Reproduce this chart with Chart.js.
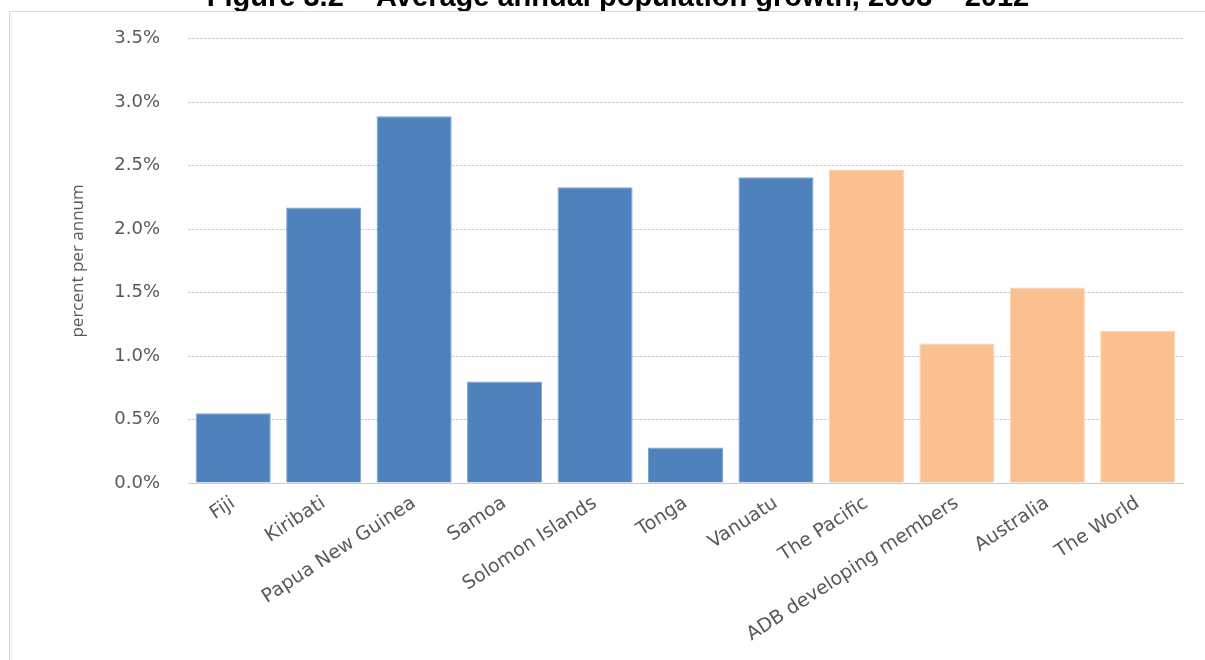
<!DOCTYPE html>
<html>
<head>
<meta charset="utf-8">
<style>
  html, body { margin: 0; padding: 0; background: #ffffff; }
  #wrap { position: relative; width: 1205px; height: 660px; }
  canvas { display: block; }
</style>
<script src="https://cdn.jsdelivr.net/npm/chart.js@4.4.1/dist/chart.umd.min.js"></script>
</head>
<body>
<div id="wrap"><canvas id="chart" width="1205" height="660"></canvas></div>
<script>
// Average annual population growth, percent per annum
const categories = [
  'Fiji', 'Kiribati', 'Papua New Guinea', 'Samoa', 'Solomon Islands',
  'Tonga', 'Vanuatu', 'The Pacific', 'ADB developing members',
  'Australia', 'The World'
];
const growthPct = [0.55, 2.17, 2.89, 0.80, 2.33, 0.28, 2.41, 2.47, 1.10, 1.54, 1.20];
// 'country' bars are blue, 'comparator' bars are orange
const groups = ['country', 'country', 'country', 'country', 'country',
  'country', 'country', 'comparator', 'comparator', 'comparator', 'comparator'];
const yTicks = [0, 0.5, 1.0, 1.5, 2.0, 2.5, 3.0, 3.5];
const titleText = 'Figure 3.2 \u2013 Average annual population growth, 2003 \u2013 2012';
const yTitle = 'percent per annum';

const groupColors = { country: '#4F81BD', comparator: '#FAC090' };
const groupBorders = { country: '#7AA0D0', comparator: '#FCD2AE' };

// Figure caption and page frame
const framePlugin = {
  id: 'frame',
  beforeDraw(chart) {
    const ctx = chart.ctx;
    ctx.save();
    ctx.fillStyle = '#ffffff';
    ctx.fillRect(0, 0, chart.width, chart.height);
    ctx.fillStyle = '#000000';
    ctx.font = 'bold 29px "Liberation Sans", Arial, sans-serif';
    ctx.textAlign = 'center';
    ctx.textBaseline = 'alphabetic';
    ctx.fillText(titleText, 618, 6);
    ctx.strokeStyle = '#d9d9d9';
    ctx.lineWidth = 1;
    ctx.beginPath();
    ctx.moveTo(9.5, chart.height);
    ctx.lineTo(9.5, 11.5);
    ctx.lineTo(chart.width, 11.5);
    ctx.stroke();
    ctx.strokeStyle = '#ededed';
    ctx.beginPath();
    ctx.moveTo(11, chart.height);
    ctx.lineTo(11, 13);
    ctx.stroke();
    ctx.restore();
  }
};

new Chart(document.getElementById('chart'), {
  type: 'bar',
  data: {
    labels: categories,
    datasets: [{
      data: growthPct,
      backgroundColor: groups.map(g => groupColors[g]),
      borderColor: groups.map(g => groupBorders[g]),
      borderWidth: 1,
      barPercentage: 0.83,
      categoryPercentage: 1.0
    }]
  },
  options: {
    responsive: false,
    animation: false,
    devicePixelRatio: 1,
    layout: { padding: { top: 35, right: 22, left: 0, bottom: 0 } },
    plugins: {
      legend: { display: false },
      tooltip: { enabled: false },
      title: { display: false }
    },
    scales: {
      x: {
        grid: { display: false, drawTicks: false },
        border: { display: true, color: '#cccccc', width: 1, dash: [3, 1] },
        ticks: {
          color: '#595959',
          font: { family: '"DejaVu Sans", sans-serif', size: 19 },
          minRotation: 33,
          maxRotation: 33,
          padding: 9,
          autoSkip: false
        },
        afterFit(scale) { scale.height = 177; }
      },
      y: {
        min: 0,
        max: 3.5,
        afterBuildTicks(scale) { scale.ticks = yTicks.map(v => ({ value: v })); },
        grid: { color: '#d2d2d2', lineWidth: 1, drawTicks: false },
        border: { display: false, dash: [3, 1] },
        ticks: {
          color: '#595959',
          font: { family: '"DejaVu Sans", sans-serif', size: 18 },
          padding: 28,
          callback: v => Number(v).toFixed(1) + '%'
        },
        title: {
          display: true,
          text: yTitle,
          color: '#595959',
          font: { family: '"Open Sans", sans-serif', size: 17 },
          padding: { top: 68, bottom: 0 }
        },
        afterFit(scale) { scale.width = 188; }
      }
    }
  },
  plugins: [framePlugin]
});
</script>
</body>
</html>
